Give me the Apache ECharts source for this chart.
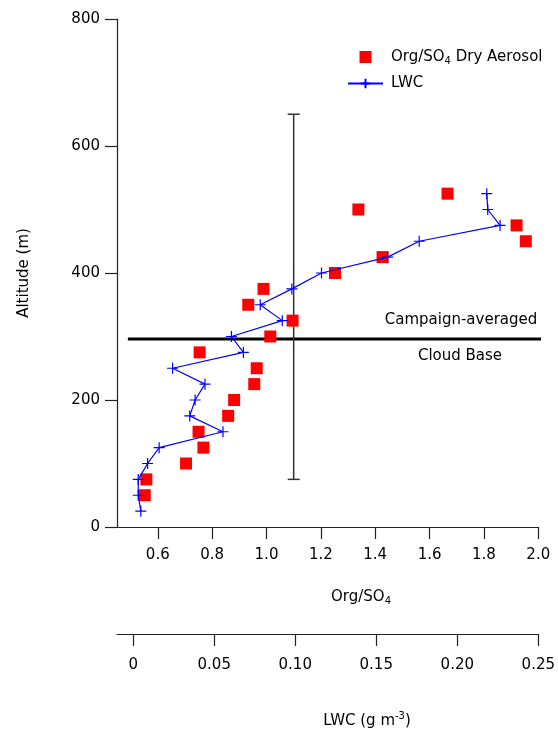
<!DOCTYPE html>
<html>
<head>
<meta charset="utf-8">
<script src="https://cdn.jsdelivr.net/npm/echarts@6.0.0/dist/echarts.min.js"></script>
<style>
html,body{margin:0;padding:0;background:#fff;}
#chart{width:558px;height:730px;}
</style>
</head>
<body>
<div id="chart"></div>
<script>
// ---- data ----
const aerosolAltitudes = [50, 75, 100, 125, 150, 175, 200, 225, 250, 275, 300, 325, 350, 375, 400, 425, 450, 475, 500, 525];
const aerosolOrgSO4 = [0.552, 0.558, 0.704, 0.768, 0.750, 0.859, 0.881, 0.955, 0.964, 0.754, 1.014, 1.096, 0.933, 0.989, 1.252, 1.427, 1.954, 1.920, 1.338, 1.666];
const lwcAltitudes = [25, 50, 75, 100, 125, 150, 175, 200, 225, 250, 275, 300, 325, 350, 375, 400, 425, 450, 475, 500, 525];
const lwcValues = [0.0047, 0.0031, 0.0031, 0.0089, 0.016, 0.0554, 0.0349, 0.0382, 0.0443, 0.0243, 0.068, 0.0606, 0.092, 0.0784, 0.0979, 0.1162, 0.157, 0.1765, 0.2264, 0.2188, 0.2182];
const orgTicks = [0.6, 0.8, 1.0, 1.2, 1.4, 1.6, 1.8, 2.0];
const lwcTicks = [0, 0.05, 0.10, 0.15, 0.20, 0.25];
const altitudeTicks = [0, 200, 400, 600, 800];
const errorBar = [1.1, 75, 650];          // x, low altitude, high altitude
const cloudBaseAltitude = 296;
const cloudBaseExtent = [0.49, 2.02];

const FONT = 'DejaVu Sans';
const chart = echarts.init(document.getElementById('chart'), null, {renderer: 'canvas'});

const aerosolData = aerosolAltitudes.map((a, i) => [aerosolOrgSO4[i], a]);
const lwcData = lwcAltitudes.map((a, i) => [lwcValues[i], a]);
const cloudBaseData = cloudBaseExtent.map(x => [x, cloudBaseAltitude]);

const axisLine = {show: true, onZero: false, lineStyle: {color: '#222', width: 1.2}};
const axisTick = (vals) => ({show: true, inside: false, length: 12, lineStyle: {color: '#222', width: 1.2}, customValues: vals});

const option = {
  animation: false,
  backgroundColor: '#fff',
  textStyle: {fontFamily: FONT},
  grid: {left: 117, right: 19, top: 19, bottom: 203, containLabel: false},
  legend: {
    left: 342, top: 43, orient: 'vertical', padding: 5,
    itemWidth: 35, itemHeight: 12, itemGap: 10,
    data: [
      {name: 'Org/SO4 Dry Aerosol', icon: 'path://M0,0H10V10H0Z'},
      {name: 'LWC'}
    ],
    formatter: function (name) {
      return name === 'LWC' ? '{n|LWC}' : '{n|Org/SO}{s|4}{n| Dry Aerosol}';
    },
    textStyle: {
      fontFamily: FONT, color: '#000', padding: [0, 0, 0, 3],
      rich: {
        n: {fontSize: 15, fontFamily: FONT, color: '#000', lineHeight: 16},
        s: {fontSize: 10, fontFamily: FONT, color: '#000', lineHeight: 10, padding: [8, 0, 0, 0]}
      }
    }
  },
  xAxis: [
    {
      type: 'value', min: 0.45, max: 2.0, position: 'bottom',
      splitLine: {show: false}, axisLine: axisLine, axisTick: axisTick(orgTicks),
      axisLabel: {customValues: orgTicks, margin: 21, fontSize: 15, color: '#000', fontFamily: FONT,
        formatter: v => v.toFixed(1)}
    },
    {
      type: 'value', min: -0.01, max: 0.25, position: 'bottom', offset: 107,
      splitLine: {show: false}, axisLine: axisLine, axisTick: axisTick(lwcTicks),
      axisLabel: {customValues: lwcTicks, margin: 24, fontSize: 15, color: '#000', fontFamily: FONT,
        formatter: v => (Math.abs(v) < 1e-9 ? '0' : v.toFixed(2))}
    }
  ],
  yAxis: {
    type: 'value', min: 0, max: 800, interval: 200,
    splitLine: {show: false}, axisLine: axisLine,
    axisTick: {show: true, length: 12, lineStyle: {color: '#222', width: 1.2}},
    axisLabel: {margin: 17, fontSize: 15, color: '#000', fontFamily: FONT},
    name: 'Altitude (m)', nameLocation: 'middle', nameGap: 85,
    nameTextStyle: {fontSize: 15, color: '#000', fontFamily: FONT}
  },
  graphic: [
    {type: 'text', x: 361, y: 597, style: {
      text: '{n|Org/SO}{s|4}', align: 'center', verticalAlign: 'middle',
      rich: {n: {fontSize: 15, fontFamily: FONT, fill: '#000', lineHeight: 16},
             s: {fontSize: 10, fontFamily: FONT, fill: '#000', lineHeight: 10, padding: [8, 0, 0, 0]}}}},
    {type: 'text', x: 367, y: 721, style: {
      text: '{n|LWC (g m}{p|-3}{n|)}', align: 'center', verticalAlign: 'middle',
      rich: {n: {fontSize: 15, fontFamily: FONT, fill: '#000', lineHeight: 16},
             p: {fontSize: 10, fontFamily: FONT, fill: '#000', lineHeight: 10, padding: [0, 0, 9, 0]}}}},
    {type: 'text', x: 461, y: 320, style: {text: 'Campaign-averaged', align: 'center', verticalAlign: 'middle',
      font: '15px "DejaVu Sans"', fill: '#000'}},
    {type: 'text', x: 460, y: 356, style: {text: 'Cloud Base', align: 'center', verticalAlign: 'middle',
      font: '15px "DejaVu Sans"', fill: '#000'}}
  ],
  series: [
    {
      name: 'cloudBase', type: 'line', xAxisIndex: 0, data: cloudBaseData, clip: false,
      symbol: 'none', lineStyle: {color: '#000', width: 3}, z: 1, silent: true
    },
    {
      name: 'errorBar', type: 'custom', xAxisIndex: 0, data: [errorBar], clip: false, z: 2,
      encode: {x: 0, y: [1, 2]},
      renderItem: function (params, api) {
        const lo = api.coord([api.value(0), api.value(1)]);
        const hi = api.coord([api.value(0), api.value(2)]);
        const w = 6;
        const st = {stroke: '#333', lineWidth: 1.5};
        return {type: 'group', children: [
          {type: 'line', shape: {x1: lo[0], y1: lo[1], x2: hi[0], y2: hi[1]}, style: st},
          {type: 'line', shape: {x1: lo[0] - w, y1: lo[1], x2: lo[0] + w, y2: lo[1]}, style: st},
          {type: 'line', shape: {x1: hi[0] - w, y1: hi[1], x2: hi[0] + w, y2: hi[1]}, style: st}
        ]};
      }
    },
    {
      name: 'Org/SO4 Dry Aerosol', type: 'scatter', xAxisIndex: 0, data: aerosolData,
      symbol: 'rect', symbolSize: 12, itemStyle: {color: '#ff0000', opacity: 1}, z: 3
    },
    {
      name: 'LWC', type: 'line', xAxisIndex: 1, data: lwcData,
      symbol: 'path://M5,0L5,10M0,5L10,5', symbolSize: 11, showAllSymbol: true,
      color: '#0000ff',
      lineStyle: {color: '#0000ff', width: 1.2},
      itemStyle: {color: '#0000ff', borderColor: '#0000ff', borderWidth: 1.2},
      z: 4
    }
  ]
};
chart.setOption(option);
</script>
</body>
</html>
